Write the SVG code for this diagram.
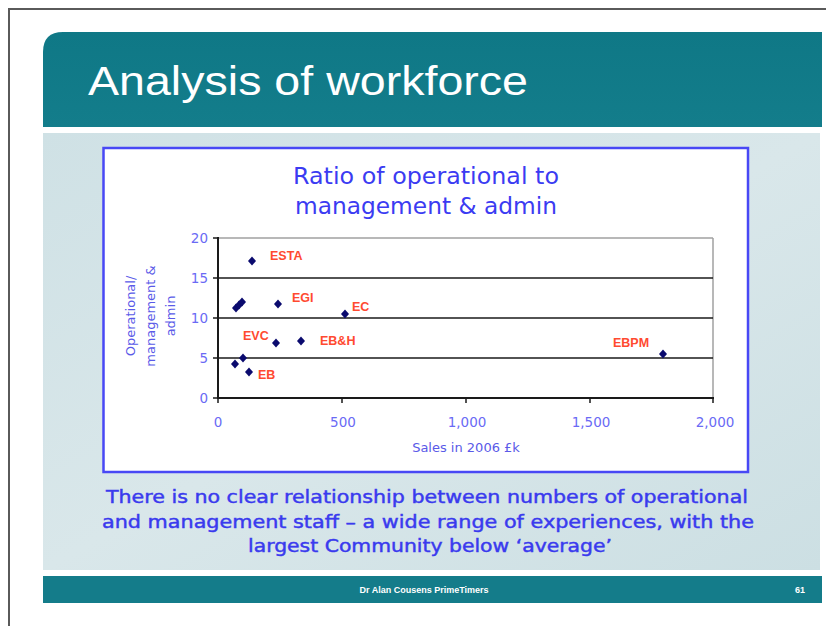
<svg xmlns="http://www.w3.org/2000/svg" width="826" height="626" viewBox="0 0 826 626">
  <defs>
    <linearGradient id="panelGrad" x1="0" y1="0" x2="1" y2="1">
      <stop offset="0" stop-color="#cfe1e5"/>
      <stop offset="0.5" stop-color="#d9e7ea"/>
      <stop offset="1" stop-color="#ccdfe3"/>
    </linearGradient>
    <linearGradient id="tealGrad" x1="0" y1="0" x2="0" y2="1">
      <stop offset="0" stop-color="#0f7886"/>
      <stop offset="1" stop-color="#137d8b"/>
    </linearGradient>
    <path id="dia" d="M0,-4.5 L4,0 L0,4.5 L-4,0 Z" fill="#0a0a6e"/>
  </defs>
  <style>
    .title { font-family: "Liberation Sans", Arial, sans-serif; font-size: 41px; fill: #ffffff; }
    .ctitle { font-family: "DejaVu Sans", Verdana, sans-serif; font-size: 23px; fill: #3b3bf2; text-anchor: middle; }
    .tick { font-family: "DejaVu Sans", Verdana, sans-serif; font-size: 13.5px; fill: #6a6af5; }
    .axt { font-family: "DejaVu Sans", Verdana, sans-serif; font-size: 13px; fill: #5a5ae8; text-anchor: middle; }
    .lbl { font-family: "Liberation Sans", Arial, sans-serif; font-size: 12.5px; font-weight: bold; fill: #ff4a30; }
    .cap { font-family: "DejaVu Sans", Verdana, sans-serif; font-size: 17.5px; fill: #3a3aee; stroke: #3a3aee; stroke-width: 0.45; text-anchor: middle; }
    .foot { font-family: "Liberation Sans", Arial, sans-serif; font-size: 9px; font-weight: bold; fill: #ffffff; }
    .grid { stroke: #1a1a1a; stroke-width: 1.5; }
  </style>

  <rect width="826" height="626" fill="#ffffff"/>
  <g id="frame">
    <path d="M9,626 V9 H826" fill="none" stroke="#5a5a5a" stroke-width="2"/>
  </g>

  <g id="header">
    <path d="M63,32 H822 V127 H43 V52 Q43,32 63,32 Z" fill="url(#tealGrad)"/>
    <text class="title" x="88" y="95" textLength="440" lengthAdjust="spacingAndGlyphs">Analysis of workforce</text>
  </g>

  <g id="panel">
    <rect x="43" y="133" width="777" height="437" fill="url(#panelGrad)"/>
  </g>

  <g id="chart">
    <rect x="103.5" y="148" width="644.5" height="324" fill="#ffffff" stroke="#4848f5" stroke-width="2.5"/>
    <text class="ctitle" x="426" y="184" textLength="266" lengthAdjust="spacingAndGlyphs">Ratio of operational to</text>
    <text class="ctitle" x="426" y="214" textLength="262" lengthAdjust="spacingAndGlyphs">management &amp; admin</text>

    <g id="plot">
      <line x1="218" y1="238" x2="713" y2="238" stroke="#a0a0a0" stroke-width="1.5"/>
      <line x1="713" y1="238" x2="713" y2="398" stroke="#a0a0a0" stroke-width="1.5"/>
      <line class="grid" x1="218" y1="278" x2="713" y2="278"/>
      <line class="grid" x1="218" y1="318" x2="713" y2="318"/>
      <line class="grid" x1="218" y1="358" x2="713" y2="358"/>
      <line x1="218" y1="237" x2="218" y2="399" stroke="#1a1a1a" stroke-width="2"/>
      <line x1="217" y1="398" x2="714" y2="398" stroke="#1a1a1a" stroke-width="2"/>
      <g stroke="#1a1a1a" stroke-width="1.5">
        <line x1="213" y1="238" x2="218" y2="238"/>
        <line x1="213" y1="278" x2="218" y2="278"/>
        <line x1="213" y1="318" x2="218" y2="318"/>
        <line x1="213" y1="358" x2="218" y2="358"/>
        <line x1="213" y1="398" x2="218" y2="398"/>
        <line x1="218" y1="398" x2="218" y2="403"/>
        <line x1="342" y1="398" x2="342" y2="403"/>
        <line x1="466" y1="398" x2="466" y2="403"/>
        <line x1="590" y1="398" x2="590" y2="403"/>
        <line x1="713" y1="398" x2="713" y2="403"/>
      </g>
    </g>

    <g id="yticks" text-anchor="end">
      <text class="tick" x="208" y="243">20</text>
      <text class="tick" x="208" y="283">15</text>
      <text class="tick" x="208" y="323">10</text>
      <text class="tick" x="208" y="363">5</text>
      <text class="tick" x="208" y="403">0</text>
    </g>
    <g id="xticks" text-anchor="middle">
      <text class="tick" x="218" y="427">0</text>
      <text class="tick" x="343" y="427">500</text>
      <text class="tick" x="467" y="427">1,000</text>
      <text class="tick" x="591" y="427">1,500</text>
      <text class="tick" x="715" y="427">2,000</text>
    </g>
    <text class="axt" x="466" y="452">Sales in 2006 £k</text>
    <g id="ytitle" transform="translate(150,316) rotate(-90)">
      <text class="axt" x="0" y="-15">Operational/</text>
      <text class="axt" x="0" y="5">management &amp;</text>
      <text class="axt" x="0" y="25">admin</text>
    </g>

    <g id="points">
      <use href="#dia" x="252" y="261"/>
      <use href="#dia" x="236" y="308"/>
      <use href="#dia" x="239" y="305"/>
      <use href="#dia" x="242" y="302"/>
      <use href="#dia" x="278" y="304"/>
      <use href="#dia" x="345" y="314"/>
      <use href="#dia" x="276" y="343"/>
      <use href="#dia" x="301" y="341"/>
      <use href="#dia" x="235" y="364"/>
      <use href="#dia" x="243" y="358"/>
      <use href="#dia" x="249" y="372"/>
      <use href="#dia" x="663" y="354"/>
    </g>
    <g id="labels">
      <text class="lbl" x="270" y="260">ESTA</text>
      <text class="lbl" x="292" y="302">EGI</text>
      <text class="lbl" x="352" y="311">EC</text>
      <text class="lbl" x="243" y="340">EVC</text>
      <text class="lbl" x="320" y="345">EB&amp;H</text>
      <text class="lbl" x="258" y="379">EB</text>
      <text class="lbl" x="613" y="347">EBPM</text>
    </g>
  </g>

  <g id="caption">
    <text class="cap" x="427" y="503" textLength="642" lengthAdjust="spacingAndGlyphs">There is no clear relationship between numbers of operational</text>
    <text class="cap" x="428" y="528" textLength="652" lengthAdjust="spacingAndGlyphs">and management staff – a wide range of experiences, with the</text>
    <text class="cap" x="430" y="552" textLength="364" lengthAdjust="spacingAndGlyphs">largest Community below ‘average’</text>
  </g>

  <g id="footer">
    <rect x="43" y="576" width="779" height="27" fill="#147c8a"/>
    <text class="foot" x="424" y="593" text-anchor="middle">Dr Alan Cousens PrimeTimers</text>
    <text class="foot" x="800" y="593" text-anchor="middle">61</text>
  </g>
</svg>
